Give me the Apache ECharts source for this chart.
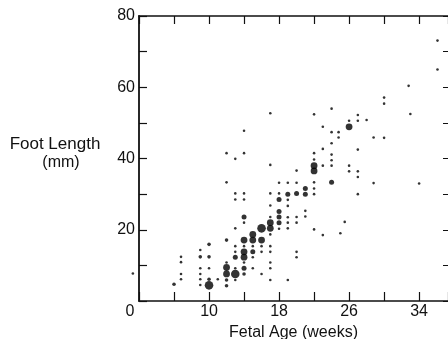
<!DOCTYPE html>
<html>
<head>
<meta charset="utf-8">
<script src="https://cdn.jsdelivr.net/npm/echarts@6/dist/echarts.min.js"></script>
<style>
html,body{margin:0;padding:0;background:#fff;}
#c{width:448px;height:339px;}
</style>
</head>
<body>
<div id="c"></div>
<script>
// Tick labels
const xTickLabels = [10, 18, 26, 34];
const yTickLabels = [20, 40, 60, 80];

// Observations [fetal age (weeks), foot length (mm)], grouped by dot size class
const dotsTiny = [
  [1.3,7.7],
  [6.8,12.4],[6.8,10.9],[6.8,7.6],[6.8,6.1],
  [9,14.3],[9,9.2],[9,7.6],[9,6.1],[9,4.5],
  [10,9.2],[11,6.1],
  [12,41.5],[12,33.3],[12,10.8],
  [13,39.9],[13,30.2],[13,28.5],[13,20.4],[13,15.4],[13,13.8],[13,9.2],[13,5.9],
  [14,47.8],[14,41.5],[14,30.2],[14,28.5],[14,22.0],[14,15.4],[14,10.8],
  [15,15.4],[15,12.3],[15,9.2],
  [16,15.4],[16,13.8],[16,7.6],
  [17,52.7],[17,38.2],[17,30.2],[17,26.8],[17,23.6],[17,18.7],[17,15.4],[17,13.8],[17,10.8],[17,9.2],[17,5.9],
  [18,33.2],[18,30.2],[18,20.3],
  [19,33.2],[19,28.4],[19,26.7],[19,23.5],[19,22.0],[19,20.4],[19,5.9],
  [20,36.6],[20,33.2],[20,23.6],[20,22.0],[20,13.8],[20,12.3],
  [21,25.3],[21,23.7],
  [22,52.4],[22,41.5],[22,39.7],[22,33.3],[22,31.6],[22,30.0],[22,20.1],
  [23,48.9],[23,42.7],[23,38.0],[23,18.5],
  [24,54.0],[24,47.4],[24,44.3],[24,41.1],[24,39.5],[24,38.0],
  [24.8,47.4],[24.8,45.9],
  [25,19.0],[25.5,22.2],
  [26,50.6],[26,38.0],[26,36.4],
  [27,52.2],[27,50.6],[27,42.5],[27,36.4],[27,34.8],[27,30.0],
  [28,50.8],
  [28.8,45.9],[28.8,33.1],
  [30,57.1],[30,55.4],[30,45.8],
  [32.8,60.4],[33,52.5],
  [34,33.0],
  [36.1,73.1],[36.1,65.0]
];
const dotsSmall = [
  [6,4.7],[9,12.4],[10,15.9],[10,12.4],[10,6.1],
  [12,17.1],[12,5.9],[12,4.3],[14,7.6]
];
const dotsMedium = [
  [13,12.3],[14,23.6],[14,9.2],[15,13.8],
  [18,28.5],[18,25.1],[18,23.6],[18,22.0],
  [19,30.0],[20,30.2],[21,31.6],[21,30.0],[24,33.3]
];
const dotsLarge = [
  [12,9.4],[12,7.6],[14,17.1],[14,13.8],[14,12.3],
  [15,18.7],[15,17.1],[16,17.1],[17,22.0],[17,20.4],
  [22,38.0],[22,36.5],[26,48.9]
];
const dotsXL = [[10,4.4],[13,7.6],[16,20.4]];

const FONT = '"Liberation Sans", Arial, Helvetica, sans-serif';
const INK = '#111';
const DOT = '#000';
const X_MIN = 2, X_MAX = 37.3;

const chart = echarts.init(document.getElementById('c'), null, {renderer: 'canvas'});

function dotSeries(data, size) {
  return {
    type: 'scatter', data: data, symbol: 'circle', symbolSize: size,
    clip: false, silent: true,
    itemStyle: {color: DOT}
  };
}

const axisLineStyle = {color: INK, width: 1.5};
const tickStyle = {color: INK, width: 1.2};

chart.setOption({
  animation: false,
  backgroundColor: '#fff',
  grid: {left: 139, right: 0, top: 16, bottom: 38, containLabel: false, outerBoundsMode: 'none'},
  xAxis: [{
    type: 'value', min: X_MIN, max: X_MAX, interval: 4,
    position: 'bottom',
    name: 'Fetal Age (weeks)', nameLocation: 'middle', nameGap: 20,
    nameTextStyle: {fontFamily: FONT, fontSize: 16, color: INK},
    axisLine: {show: true, onZero: false, lineStyle: axisLineStyle},
    axisTick: {show: true, inside: true, length: 9, lineStyle: tickStyle},
    splitLine: {show: false},
    axisLabel: {
      fontFamily: FONT, fontSize: 16, color: INK, margin: 3,
      showMaxLabel: true,
      formatter: function (v) {
        if (Math.abs(v - X_MIN) < 1e-6) return '{z|0}';
        return xTickLabels.indexOf(Math.round(v)) >= 0 && Math.abs(v - Math.round(v)) < 1e-6 ? String(Math.round(v)) : '';
      },
      rich: {z: {fontFamily: FONT, fontSize: 16, color: INK, padding: [0, 18, 0, 0]}}
    }
  }, {
    type: 'value', min: X_MIN, max: X_MAX, interval: 4,
    position: 'top',
    axisLine: {show: true, onZero: false, lineStyle: axisLineStyle},
    axisTick: {show: true, inside: true, length: 8, lineStyle: tickStyle},
    axisLabel: {show: false},
    splitLine: {show: false}
  }],
  yAxis: [{
    type: 'value', min: 0, max: 80, interval: 10,
    position: 'left',
    name: '{a|Foot Length}\n{b|(mm)}', nameLocation: 'middle', nameRotate: 0, nameGap: 84,
    nameTextStyle: {
      fontFamily: FONT, fontSize: 17, color: INK, align: 'center', padding: [0, 0, 10, 0],
      rich: {
        a: {fontFamily: FONT, fontSize: 17, color: INK, lineHeight: 19},
        b: {fontFamily: FONT, fontSize: 16, color: INK, lineHeight: 19, padding: [0, 0, 0, 12]}
      }
    },
    axisLine: {show: true, onZero: false, lineStyle: {color: INK, width: 1.8}},
    axisTick: {show: true, inside: true, length: 8, lineStyle: tickStyle},
    splitLine: {show: false},
    axisLabel: {
      fontFamily: FONT, fontSize: 16, color: INK, margin: 4,
      formatter: function (v) { return yTickLabels.indexOf(v) >= 0 ? String(v) : ''; }
    }
  }, {
    type: 'value', min: 0, max: 80, interval: 10,
    position: 'right',
    axisLine: {show: false, onZero: false},
    axisTick: {show: true, inside: true, length: 5, lineStyle: {color: INK, width: 1}},
    axisLabel: {show: false},
    splitLine: {show: false}
  }],
  series: [
    dotSeries(dotsTiny, 2.6),
    dotSeries(dotsSmall, 3.6),
    dotSeries(dotsMedium, 5),
    dotSeries(dotsLarge, 6.8),
    dotSeries(dotsXL, 8.6)
  ]
});
</script>
</body>
</html>
